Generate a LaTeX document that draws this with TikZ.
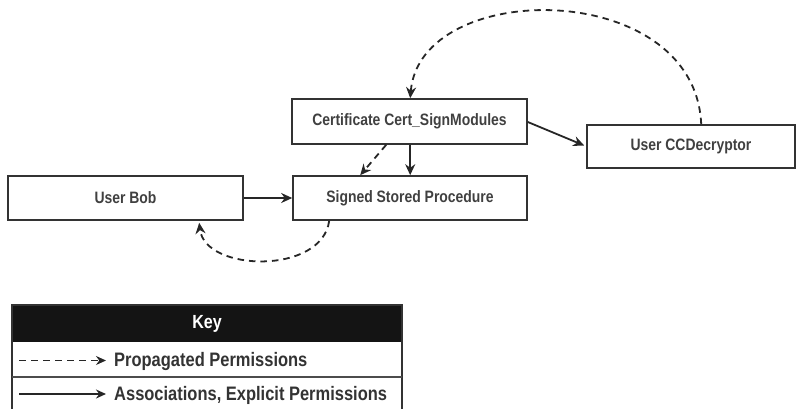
\documentclass[tikz,border=0pt]{standalone}
\usepackage{fontspec}
\setmainfont{Liberation Sans}[FakeStretch=0.845]
\usetikzlibrary{arrows.meta,calc}
\begin{document}
\begin{tikzpicture}[x=1pt,y=-1pt,
  box/.style={draw=black!80,line width=1.6pt,rectangle,inner sep=0pt,font=\bfseries\fontsize{16.5}{18}\selectfont,text=black!75},
  sol/.style={line width=1.8pt,black!85,-{Stealth[length=11pt,width=10pt]}},
  dsh/.style={line width=1.8pt,black!85,dash pattern=on 6.5pt off 5pt,-{Stealth[length=11pt,width=10pt]}},
  keytxt/.style={anchor=west,inner sep=0pt,font=\bfseries\fontsize{19.5}{22}\selectfont,text=black!80}]
\useasboundingbox (0,0) rectangle (810,409);
\node[box,minimum width=235pt,minimum height=45pt] (cert) at (409.5,121.5) {Certificate Cert\_SignModules};
\node[box,minimum width=208pt,minimum height=43pt] (ccd) at (691,146.5) {User CCDecryptor};
\node[box,minimum width=235pt,minimum height=44pt] (bob) at (125.5,198) {User Bob};
\node[box,minimum width=234pt,minimum height=44pt] (ssp) at (410,198) {Signed Stored Procedure};
% connectors
\draw[dsh] ($(ccd.north west)+(115,0)$) .. controls (695,-22) and (420,-22) .. ($(cert.north west)+(119,0)$);
\draw[sol] ($(cert.east)+(0,0.5)$) -- ($(ccd.west)+(-2,-1)$);
\draw[sol] ($(cert.south west)+(119,0)$) -- ($(ssp.north west)+(118,0)$);
\draw[dsh] ($(cert.south west)+(95,0)$) -- ($(ssp.north west)+(68,0)$);
\draw[sol] (bob.east) -- (ssp.west);
\draw[dsh] ($(ssp.south west)+(37,0)$) .. controls (322,275) and (205,272) .. ($(bob.south west)+(192,2)$);
% key
\begin{scope}
\clip (0,0) rectangle (810,409);
\fill[black!92] (12,305) rectangle (402,342);
\draw[black!80,line width=1.6pt] (12,305) rectangle (402,430);
\draw[black!70,line width=1.6pt] (12,377) -- (402,377);
\end{scope}
\node[font=\bfseries\fontsize{19}{21}\selectfont,text=white,inner sep=0pt] (key) at (207,323.5) {Key};
\coordinate (d1) at (19,360.5);
\coordinate (d2) at (106,360.5);
\coordinate (s1) at (19,394);
\coordinate (s2) at (106,394);
\draw[line width=1.4pt,black!85,dash pattern=on 7pt off 5pt,-{Stealth[length=10pt,width=9pt]}] (d1) -- (d2);
\draw[line width=1.6pt,black!85,-{Stealth[length=10pt,width=9pt]}] (s1) -- (s2);
\node[keytxt] (k1) at (114,361.5) {Propagated Permissions};
\node[keytxt] (k2) at (114,395) {Associations, Explicit Permissions};
\end{tikzpicture}
\end{document}
